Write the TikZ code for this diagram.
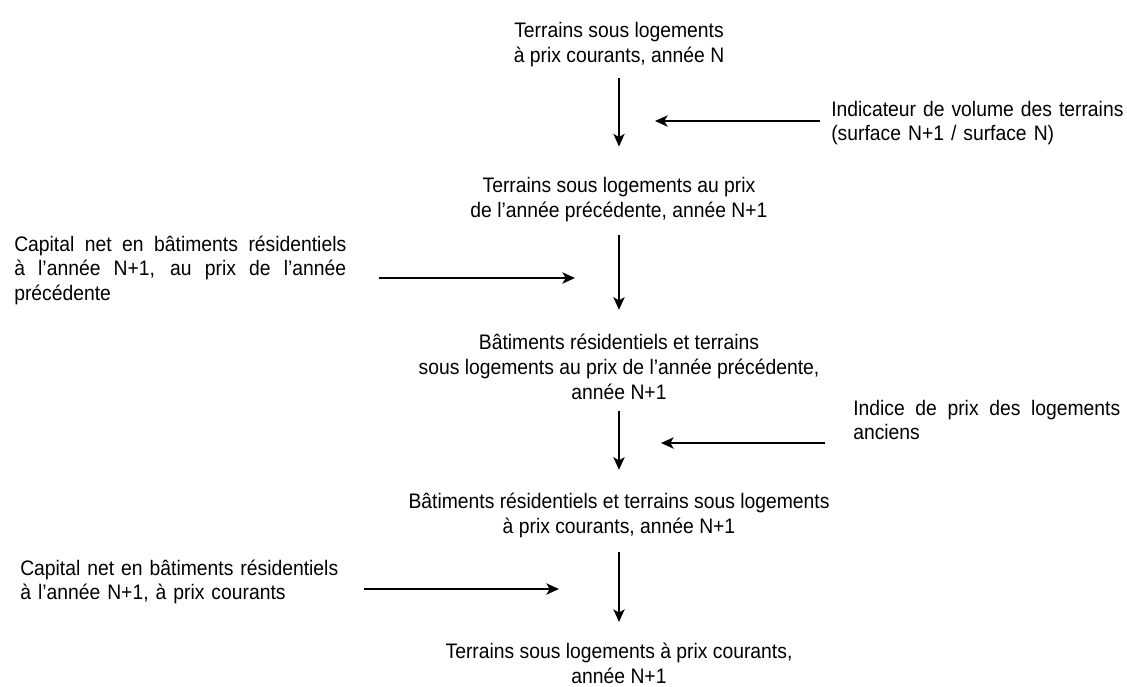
\documentclass[tikz,border=0pt]{standalone}
\usepackage{fontspec}
\setmainfont{Liberation Sans}[FakeStretch=0.92]
\usetikzlibrary{arrows.meta}
\hyphenpenalty=10000
\newcommand\diagfont{\fontsize{15.75}{18.4}\selectfont}
\tikzset{
  etape/.style={font=\diagfont, inner sep=0pt, align=center, anchor=base},
  apport/.style={font=\diagfont, inner sep=0pt, text width=#1, anchor=base west},
  flow/.style={-{Stealth[length=9.5pt,width=8.5pt,inset=2.5pt]}, line width=1.1pt},
}
\begin{document}
\begin{tikzpicture}[x=0.75pt, y=-0.75pt]
        \useasboundingbox (0,0) rectangle (1127,686);

        % chaine centrale (ancre sur la derniere ligne)
        \node[etape] (t1) at (619, 62) {Terrains sous logements\\à prix courants, année N};
        \node[etape] (t2) at (619, 217) {Terrains sous logements au prix\\de l'année précédente, année N+1};
        \node[etape] (t3) at (619, 399) {Bâtiments résidentiels et terrains\\sous logements au prix de l'année précédente,\\année N+1};
        \node[etape] (t4) at (619, 533) {Bâtiments résidentiels et terrains sous logements\\à prix courants, année N+1};
        \node[etape] (t5) at (619, 683) {Terrains sous logements à prix courants,\\année N+1};

        % sources laterales (ancre sur la premiere ligne)
        \node[apport=240pt, align=left] (r1) at (831, 116) {Indicateur de volume des terrains\\(surface N+1 / surface N)};
        \node[apport=249pt, align=justify] (l1) at (14, 251) {Capital net en bâtiments résidentiels à l'année N+1, au prix de l'année précédente};
        \node[apport=200.25pt, align=justify] (r2) at (853, 415) {Indice de prix des logements anciens};
        \node[apport=249pt, align=left] (l2) at (20, 575) {Capital net en bâtiments résidentiels\\à l'année N+1, à prix courants};

        \coordinate (p1) at (655, 121);
        \coordinate (p2) at (575, 278);
        \coordinate (p3) at (661, 443);
        \coordinate (p4) at (559, 589);

        \draw[flow, shorten <=8.7pt, shorten >=22.9pt] (t1.south) -- (t2.north);
        \draw[flow, shorten <=10.2pt, shorten >=18.3pt] (t2.south) -- (t3.north);
        \draw[flow, shorten <=8.3pt, shorten >=17.2pt] (t3.south) -- (t4.north);
        \draw[flow, shorten <=11pt, shorten >=15.6pt] (t4.south) -- (t5.north);

        \draw[flow, shorten <=8.5pt] (r1.west |- p1) -- (p1);
        \draw[flow, shorten <=24pt] (l1.east |- p2) -- (p2);
        \draw[flow, shorten <=21pt] (r2.west |- p3) -- (p3);
        \draw[flow, shorten <=8.3pt] (l2.east |- p4) -- (p4);
\end{tikzpicture}
\end{document}
